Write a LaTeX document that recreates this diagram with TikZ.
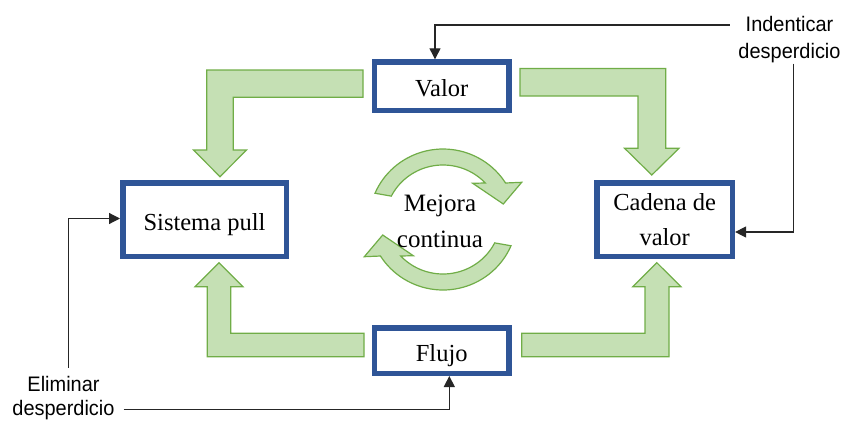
\documentclass[tikz,border=0pt]{standalone}
\usepackage{fontspec}
\setmainfont{Liberation Serif}
\newfontfamily\lblfont[FakeStretch=0.95]{Liberation Sans}
\usetikzlibrary{arrows.meta}
\definecolor{boxblue}{HTML}{2F5597}
\definecolor{arrfill}{HTML}{C5E0B4}
\definecolor{arrline}{HTML}{70AD47}
\begin{document}
\begin{tikzpicture}[x=1pt,y=-1pt,
  box/.style={draw=boxblue,line width=5.5pt,fill=white,inner sep=0pt,font=\fontsize{24.5}{35.5}\selectfont,align=center},
  onebox/.style={box,text height=21pt,text depth=0pt},
  blockarrow/.style={fill=arrfill,draw=arrline,line width=1.2pt,line join=miter},
  conn/.style={draw=black!85,line width=1.2pt,-{Triangle[length=11pt,width=11pt]}},
  lbl/.style={font=\lblfont\fontsize{21}{26.5}\selectfont,align=center,inner sep=0pt}]
\useasboundingbox (0,0) rectangle (842,421);

% block arrows
\draw[blockarrow] (363,70) -- (206.7,70) -- (206.7,150) -- (193.5,150) -- (220,176.7) -- (246.5,150) -- (233.3,150) -- (233.3,97.3) -- (363,97.3) -- cycle;
\draw[blockarrow] (520,68.5) -- (665.7,68.5) -- (665.7,148.3) -- (679,148.3) -- (651.8,175) -- (624.6,148.3) -- (638,148.3) -- (638,96) -- (520,96) -- cycle;
\draw[blockarrow] (364,333.3) -- (230.7,333.3) -- (230.7,286.7) -- (243,286.7) -- (219,262.7) -- (195,286.7) -- (207.3,286.7) -- (207.3,356.7) -- (364,356.7) -- cycle;
\draw[blockarrow] (521.7,333.3) -- (645,333.3) -- (645,286.7) -- (632.7,286.7) -- (656.8,262.7) -- (681,286.7) -- (669,286.7) -- (669,356.7) -- (521.7,356.7) -- cycle;

% circular arrows
\draw[blockarrow] plot[domain=32.3:156.8,samples=40] ({443+74*cos(189.1-\x)},{222-73*sin(189.1-\x)})
  -- (521.7,182.3) -- (503.3,204) -- (472.7,183.3)
  -- plot[domain=43.2:153,samples=40] ({443+58*cos(\x)},{222-57*sin(\x)}) -- cycle;
\begin{scope}[rotate around={180:(443,219.5)}]
\draw[blockarrow] plot[domain=32.3:156.8,samples=40] ({443+74*cos(189.1-\x)},{222-73*sin(189.1-\x)})
  -- (521.7,182.3) -- (503.3,204) -- (472.7,183.3)
  -- plot[domain=43.2:153,samples=40] ({443+58*cos(\x)},{222-57*sin(\x)}) -- cycle;
\end{scope}

% boxes
\node[onebox,minimum width=134.5pt,minimum height=48.5pt] (valor) at (441.7,86.3) {Valor};
\node[onebox,minimum width=163.5pt,minimum height=73.5pt] (sistema) at (204.5,219.5) {Sistema pull};
\node[box,minimum width=135.3pt,minimum height=73.8pt] (cadena) at (664.7,219.7) {Cadena de\\valor};
\node[onebox,minimum width=134.5pt,minimum height=45.5pt] (flujo) at (441.7,350.5) {Flujo};

\node[font=\fontsize{25}{36.6}\selectfont,align=center,inner sep=0pt] (mejora) at (440,221.5) {Mejora\\continua};

% labels
\node[lbl] (ind) at (789.5,39.5) {Indenticar\\desperdicio};
\node[lbl,font=\lblfont\fontsize{21}{24}\selectfont] (eli) at (63.5,397.6) {Eliminar\\desperdicio};

% connectors
\draw[conn] ([shift={(-8.5pt,14.5pt)}]ind.west) -| ([xshift=-6.7pt]valor.north);
\draw[conn] ([shift={(3.8pt,-1pt)}]ind.south) |- ([yshift=-12.3pt]cadena.east);
\draw[conn] ([shift={(4.8pt,7.7pt)}]eli.north) |- ([yshift=1pt]sistema.west);
\draw[conn] ([shift={(8.8pt,-11.7pt)}]eli.east) -| ([xshift=7.6pt]flujo.south);
\end{tikzpicture}
\end{document}
